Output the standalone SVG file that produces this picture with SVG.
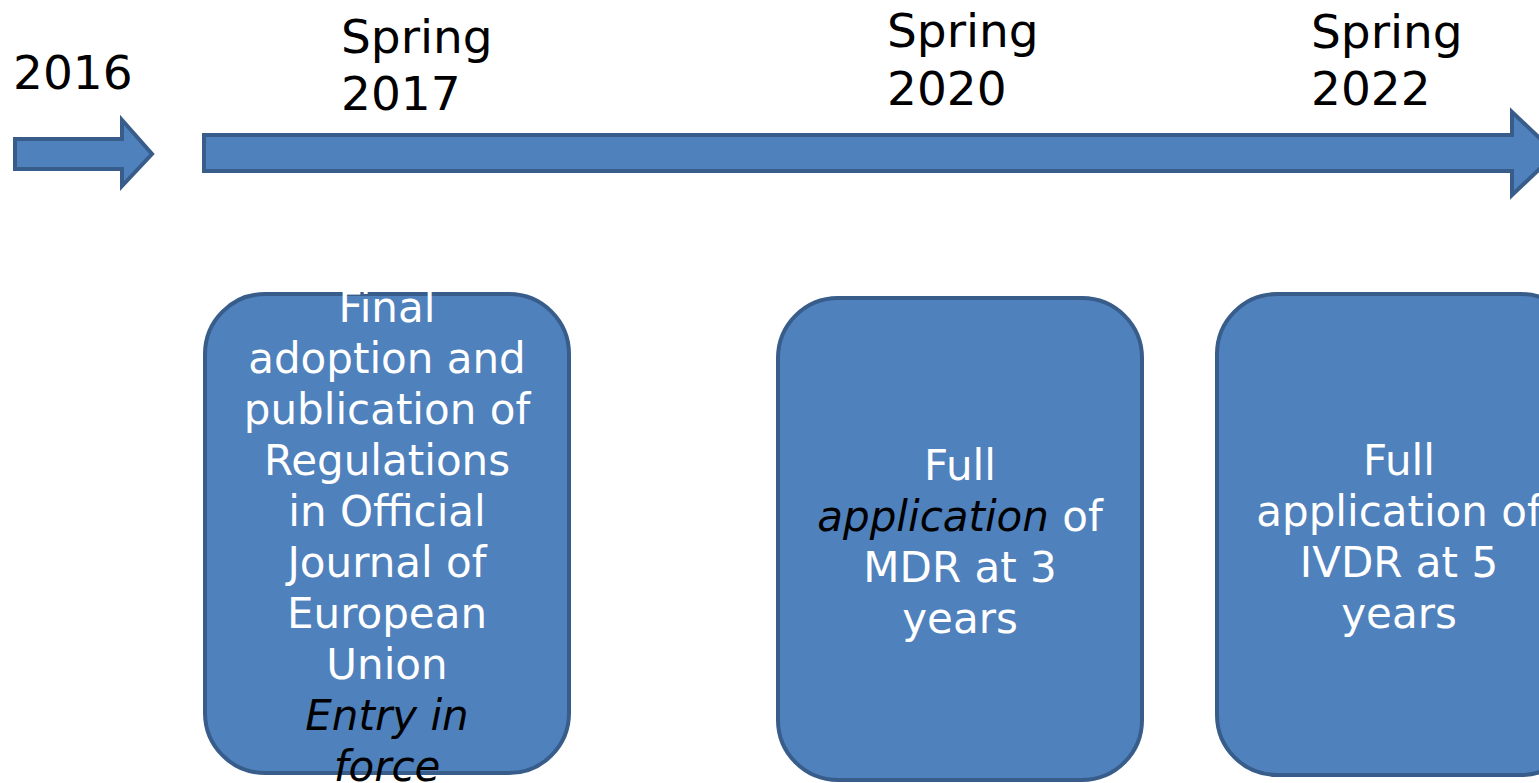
<svg xmlns="http://www.w3.org/2000/svg" width="1539" height="783" viewBox="0 0 1539 783">
<style>
.shape{fill:#4F81BD;stroke:#385D8A;stroke-width:4;stroke-linejoin:miter}
.lbl{font-family:"DejaVu Sans","Verdana",sans-serif;font-size:47px;fill:#000}
.bt{font-family:"DejaVu Sans","Verdana",sans-serif;font-size:42px;fill:#fff;text-anchor:middle}
.it{font-style:italic;fill:#000}
</style>
<rect width="1539" height="783" fill="#fff"/>
<g id="connectors">
<path id="arrow-small" class="shape" d="M15,139 H122 V120 L152,154 L122,186 V169 H15 Z"/>
<path id="arrow-main" class="shape" d="M204,135 H1512 V112 L1556,153.5 L1512,195 V171 H204 Z"/>
</g>
<g id="label-2016"><text class="lbl" x="13" y="89">2016</text></g>
<g id="label-2017"><text class="lbl" x="341" y="53">Spring</text><text class="lbl" x="341" y="110">2017</text></g>
<g id="label-2020"><text class="lbl" x="887" y="47">Spring</text><text class="lbl" x="887" y="105">2020</text></g>
<g id="label-2022"><text class="lbl" x="1311" y="48">Spring</text><text class="lbl" x="1311" y="105">2022</text></g>
<g id="box-adoption">
<rect class="shape" x="205" y="294" width="364" height="479" rx="60" ry="60"/>
<text class="bt" x="387" y="321.5">Final</text>
<text class="bt" x="387" y="372.5">adoption and</text>
<text class="bt" x="387" y="423.5">publication of</text>
<text class="bt" x="387" y="474.5">Regulations</text>
<text class="bt" x="387" y="525.5">in Official</text>
<text class="bt" x="387" y="576.5">Journal of</text>
<text class="bt" x="387" y="627.5">European</text>
<text class="bt" x="387" y="678.5">Union</text>
<text class="bt it" x="387" y="729.5">Entry in</text>
<text class="bt it" x="387" y="780.5">force</text>
</g>
<g id="box-mdr">
<rect class="shape" x="778" y="298" width="364" height="482" rx="60" ry="60"/>
<text class="bt" x="960" y="480">Full</text>
<text class="bt" x="960" y="531"><tspan class="it">application</tspan> of</text>
<text class="bt" x="960" y="582">MDR at 3</text>
<text class="bt" x="960" y="633">years</text>
</g>
<g id="box-ivdr">
<rect class="shape" x="1217" y="294" width="364" height="481" rx="60" ry="60"/>
<text class="bt" x="1399" y="475">Full</text>
<text class="bt" x="1399" y="526">application of</text>
<text class="bt" x="1399" y="577">IVDR at 5</text>
<text class="bt" x="1399" y="628">years</text>
</g>
</svg>
